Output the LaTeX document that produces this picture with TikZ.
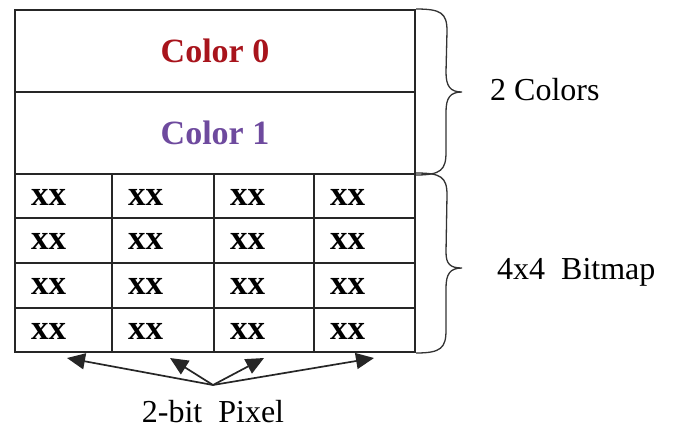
\documentclass[tikz,border=0pt]{standalone}
\usepackage{fontspec}
\setmainfont{Liberation Serif}
\usetikzlibrary{arrows.meta}
\definecolor{colzero}{HTML}{A8141C}
\definecolor{colone}{HTML}{6E4A9E}
\tikzset{
  frame/.style={draw=black!85, line width=2pt},
  colorrow/.style={frame, minimum width=400pt, minimum height=82pt, inner sep=0pt,
    font=\fontsize{34}{34}\selectfont\bfseries},
  cell/.style={frame, inner sep=0pt},
  cellval/.style={anchor=west, font=\fontsize{35}{35}\selectfont\bfseries, inner sep=0pt},
  bracepath/.style={draw=black!80, line width=1.3pt},
  label/.style={font=\fontsize{32}{32}\selectfont, inner sep=0pt},
  ptr/.style={draw=black!85, line width=1.7pt, -{Triangle[length=18pt,width=16pt]}}
}
\begin{document}
\begin{tikzpicture}[x=1pt,y=-1pt]
\useasboundingbox (0,0) rectangle (676,432);
% palette rows
\node[colorrow, text=colzero] (c0) at (215,51) {Color 0};
\node[colorrow, text=colone] (c1) at (215,133) {Color 1};
% 4x4 bitmap cells
\foreach \r/\yt/\yb in {0/174/218, 1/218/263, 2/263/308, 3/308/352}{
  \foreach \c/\xl/\xr in {0/15/112, 1/112/214, 2/214/314, 3/314/415}{
    \pgfmathsetmacro{\cw}{\xr-\xl}
    \pgfmathsetmacro{\ch}{\yb-\yt}
    \node[cell, minimum width=\cw pt, minimum height=\ch pt]
      (b\r\c) at ({(\xl+\xr)/2},{(\yt+\yb)/2}) {};
    \node[cellval] (t\r\c) at ([xshift=17pt,yshift=-1pt]b\r\c.west) {xx};
  }
}
% brace for the two colours
\coordinate (ta) at (c0.north east);
\coordinate (tb) at (c1.south east);
\draw[bracepath] (ta) .. controls +(25,0) and +(0,-18) .. ++(31,22)
  -- (446,72) .. controls (446,86) and (450,92) .. (462,92)
  .. controls (450,92) and (446,98) .. (446,112)
  -- (446,152) .. controls +(0,18) and +(25,0) .. (tb);
\node[label, anchor=west] (lc) at (490,90) {2 Colors};
% brace for the bitmap
\coordinate (tc) at (b03.north east);
\coordinate (td) at (b33.south east);
\draw[bracepath] (tc) .. controls +(25,0) and +(0,-18) .. ++(31,22)
  -- (446,252) .. controls (446,264) and (450,268) .. (462,268)
  .. controls (450,268) and (446,274) .. (446,288)
  -- (446,330) .. controls +(0,18) and +(25,0) .. (td);
\node[label, anchor=west] (lb) at (497,272) {4x4~~Bitmap};
% pixel pointers
\coordinate (hub) at (213,385);
\coordinate (p0) at (67,358);
\coordinate (p1) at (170,358);
\coordinate (p2) at (264,358);
\coordinate (p3) at (374,358);
\foreach \p in {p0,p1,p2,p3} \draw[ptr] (hub) -- (\p);
\node[label] (lp) at (213,412) {2-bit~~Pixel};
\end{tikzpicture}
\end{document}
